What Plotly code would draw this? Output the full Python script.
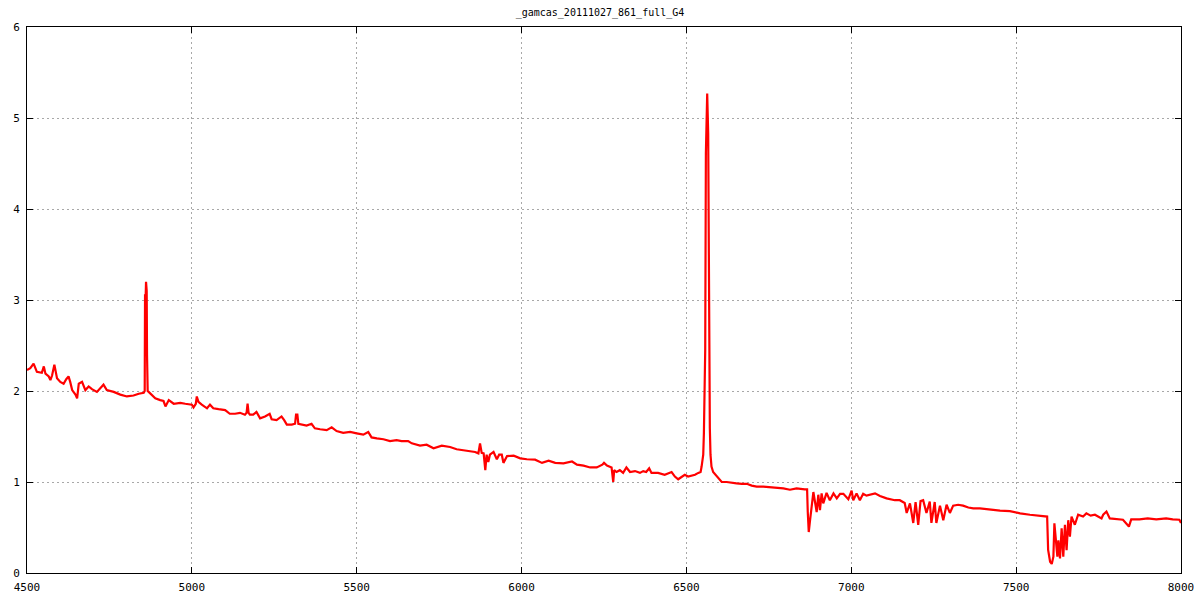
import plotly.graph_objects as go

TITLE = "_gamcas_20111027_861_full_G4"

wavelength = [
    4500, 4510, 4520, 4525, 4530, 4545, 4551, 4556, 4566, 4571, 4576, 4583, 4591, 4601, 4611,
    4619, 4626, 4631, 4637, 4647, 4652, 4657, 4667, 4677, 4687, 4697, 4712, 4727, 4732, 4742,
    4763, 4783, 4803, 4823, 4839, 4854, 4857, 4858, 4860, 4861, 4863, 4864, 4866, 4869, 4879,
    4889, 4904, 4914, 4920, 4930, 4945, 4965, 4980, 5000, 5005, 5012, 5015, 5020, 5030, 5046,
    5055, 5065, 5081, 5101, 5115, 5131, 5146, 5161, 5166, 5169, 5172, 5176, 5186, 5196, 5207,
    5222, 5236, 5242, 5257, 5272, 5280, 5288, 5303, 5313, 5316, 5320, 5323, 5333, 5348, 5363,
    5373, 5389, 5409, 5424, 5439, 5459, 5480, 5500, 5520, 5535, 5545, 5561, 5581, 5601, 5621,
    5636, 5656, 5667, 5682, 5692, 5712, 5733, 5758, 5783, 5803, 5823, 5843, 5859, 5869, 5874,
    5879, 5885, 5890, 5894, 5899, 5904, 5915, 5925, 5932, 5940, 5945, 5956, 5976, 5996, 6016,
    6041, 6062, 6082, 6102, 6127, 6153, 6168, 6188, 6208, 6228, 6245, 6250, 6259, 6273, 6278,
    6281, 6288, 6298, 6308, 6318, 6329, 6344, 6359, 6369, 6378, 6387, 6394, 6414, 6434, 6455,
    6465, 6475, 6485, 6495, 6505, 6515, 6526, 6536, 6543, 6546, 6551, 6553, 6557, 6559, 6563,
    6566, 6568, 6571, 6573, 6576, 6581, 6592, 6607, 6622, 6637, 6652, 6668, 6683, 6698, 6713,
    6733, 6754, 6774, 6794, 6814, 6834, 6859, 6866, 6868, 6871, 6875, 6880, 6885, 6890, 6895,
    6900, 6905, 6910, 6915, 6925, 6935, 6946, 6956, 6966, 6976, 6991, 7001, 7006, 7016, 7026,
    7036, 7046, 7056, 7072, 7087, 7107, 7132, 7147, 7162, 7168, 7178, 7188, 7195, 7203, 7210,
    7218, 7228, 7238, 7243, 7253, 7258, 7269, 7279, 7289, 7299, 7309, 7324, 7339, 7355, 7370,
    7390, 7410, 7430, 7451, 7481, 7512, 7542, 7572, 7587, 7594, 7597, 7603, 7608, 7613, 7616,
    7620, 7625, 7628, 7633, 7638, 7643, 7648, 7653, 7658, 7663, 7668, 7678, 7688, 7703, 7713,
    7726, 7739, 7759, 7764, 7774, 7784, 7804, 7824, 7842, 7849, 7874, 7899, 7925, 7955, 7975,
    7995, 8000,
]

flux = [
    2.23, 2.25, 2.30, 2.25, 2.21, 2.20, 2.27, 2.19, 2.16, 2.12, 2.17, 2.29, 2.14, 2.10, 2.08,
    2.13, 2.16, 2.10, 2.01, 1.96, 1.92, 2.08, 2.10, 2.01, 2.05, 2.02, 1.99, 2.05, 2.07, 2.01,
    1.99, 1.96, 1.94, 1.95, 1.97, 1.98, 2.00, 3.05, 3.05, 3.20, 3.10, 2.40, 2.00, 1.99, 1.96,
    1.92, 1.90, 1.89, 1.83, 1.90, 1.86, 1.87, 1.86, 1.85, 1.82, 1.86, 1.94, 1.88, 1.85, 1.81,
    1.85, 1.81, 1.80, 1.79, 1.75, 1.75, 1.76, 1.74, 1.76, 1.86, 1.76, 1.74, 1.74, 1.77, 1.70,
    1.72, 1.75, 1.69, 1.68, 1.72, 1.68, 1.63, 1.63, 1.64, 1.74, 1.74, 1.64, 1.63, 1.62, 1.64,
    1.59, 1.58, 1.57, 1.60, 1.56, 1.54, 1.55, 1.535, 1.52, 1.55, 1.49, 1.48, 1.47, 1.45, 1.46,
    1.45, 1.45, 1.425, 1.41, 1.40, 1.41, 1.37, 1.40, 1.385, 1.36, 1.35, 1.34, 1.33, 1.315, 1.425,
    1.32, 1.315, 1.13, 1.30, 1.22, 1.30, 1.33, 1.25, 1.30, 1.30, 1.21, 1.285, 1.29, 1.26, 1.25,
    1.245, 1.21, 1.235, 1.21, 1.205, 1.225, 1.19, 1.18, 1.16, 1.16, 1.19, 1.21, 1.18, 1.16, 1.00,
    1.13, 1.11, 1.13, 1.10, 1.16, 1.11, 1.12, 1.10, 1.12, 1.11, 1.15, 1.10, 1.10, 1.08, 1.11,
    1.06, 1.03, 1.06, 1.08, 1.06, 1.07, 1.08, 1.10, 1.11, 1.17, 1.30, 1.535, 2.45, 4.61, 5.27,
    4.83, 2.74, 1.59, 1.30, 1.17, 1.11, 1.06, 1.00, 1.00, 0.99, 0.985, 0.98, 0.98, 0.96, 0.95,
    0.95, 0.945, 0.94, 0.93, 0.915, 0.93, 0.92, 0.92, 0.67, 0.45, 0.58, 0.73, 0.89, 0.78, 0.67,
    0.86, 0.69, 0.875, 0.765, 0.88, 0.80, 0.875, 0.82, 0.87, 0.87, 0.81, 0.905, 0.80, 0.875, 0.80,
    0.87, 0.85, 0.86, 0.875, 0.846, 0.82, 0.80, 0.80, 0.77, 0.66, 0.765, 0.55, 0.78, 0.53, 0.79,
    0.80, 0.66, 0.785, 0.55, 0.78, 0.55, 0.74, 0.58, 0.75, 0.66, 0.74, 0.75, 0.74, 0.72, 0.71,
    0.71, 0.70, 0.69, 0.685, 0.68, 0.655, 0.64, 0.626, 0.626, 0.62, 0.253, 0.124, 0.10, 0.18, 0.546,
    0.36, 0.18, 0.36, 0.16, 0.49, 0.18, 0.53, 0.25, 0.58, 0.40, 0.62, 0.53, 0.64, 0.62, 0.655,
    0.63, 0.64, 0.60, 0.64, 0.675, 0.60, 0.59, 0.585, 0.51, 0.59, 0.59, 0.60, 0.59, 0.60, 0.59,
    0.585, 0.55,
]

x_ticks = [4500, 5000, 5500, 6000, 6500, 7000, 7500, 8000]
y_ticks = [0, 1, 2, 3, 4, 5, 6]

fig = go.Figure()
fig.add_trace(go.Scatter(
    x=wavelength, y=flux, mode="lines",
    line=dict(color="#ff0000", width=2.2),
    showlegend=False, hoverinfo="x+y",
))

axis_common = dict(
    showline=True, linecolor="black", linewidth=1, mirror="ticks",
    ticks="inside", ticklen=6, tickcolor="black",
    showgrid=True, gridcolor="#a8a8a8", griddash="2px,3px", gridwidth=1,
    zeroline=False, automargin=False,
    tickfont=dict(family="DejaVu Sans Mono", size=11, color="black"),
)

fig.update_xaxes(range=[4500, 8000], tickvals=x_ticks, ticktext=[str(v) for v in x_ticks],
                 ticklabelstandoff=4, **axis_common)
fig.update_yaxes(range=[0, 6], tickvals=y_ticks, ticktext=[str(v) for v in y_ticks],
                 ticklabelstandoff=4, **axis_common)

fig.update_layout(
    width=1200, height=600,
    margin=dict(l=27, r=19, t=27, b=27),
    paper_bgcolor="white", plot_bgcolor="white",
    title=dict(text=TITLE, x=0.5, xanchor="center", y=0.98, yanchor="middle",
               font=dict(family="DejaVu Sans Mono", size=10, color="black")),
)

# Remove the browser's default 8px body margin so the figure fills the window.
fig.write_html(
    "out.html",
    config={"displayModeBar": False},
    post_script="document.body.style.margin='0';document.body.style.overflow='hidden';",
)
